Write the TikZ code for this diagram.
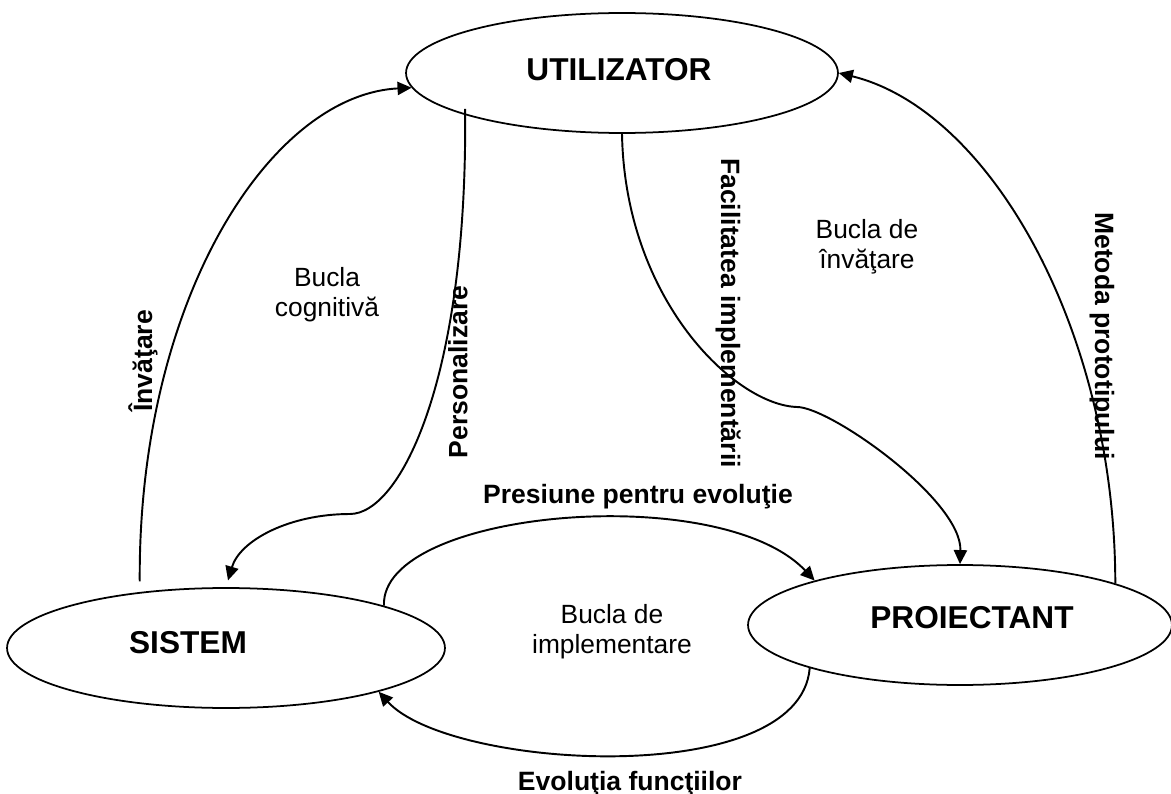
\documentclass[tikz,border=0pt]{standalone}
\usepackage{fontspec}
\setmainfont{Liberation Sans}
\usetikzlibrary{shapes.geometric,arrows.meta}
\begin{document}
\begin{tikzpicture}[x=0.02cm,y=-0.02cm,
  actor/.style={draw,ellipse,line width=1pt,inner sep=0pt,minimum height=2.4cm},
  actorname/.style={font=\fontsize{18}{21}\selectfont\bfseries,inner sep=0pt},
  flow/.style={line width=1.1pt,-{Triangle[length=8pt,width=7.5pt]}},
  flowlabel/.style={font=\fontsize{15.1}{17}\selectfont\bfseries,inner sep=0pt},
  looplabel/.style={font=\fontsize{15}{17}\selectfont,align=center,inner sep=0pt}]
\useasboundingbox (0,0) rectangle (1171,794);

% the three actors
\node[actor,minimum width=8.64cm] (utilizator) at (622,73) {};
\node[actor,minimum width=8.76cm] (sistem) at (226,648) {};
\node[actor,minimum width=8.48cm] (proiectant) at (960,625) {};
\node[actorname] (utilizatortxt) at (619,70) {UTILIZATOR};
\node[actorname] (sistemtxt) at (188,643) {SISTEM};
\node[actorname] (proiectanttxt) at (972,618) {PROIECTANT};

% bends of the two S-shaped connectors
\coordinate (pk) at (350,514);
\coordinate (fk) at (797,407);

% cognitive loop
\draw[flow,shorten <=6pt] (sistem.147) .. controls (138,300) and (270,95) .. (utilizator.184);
\draw[flow,shorten <=-3.5pt,shorten >=4pt] (utilizator.195) .. controls (468,380) and (400,514) .. (pk)
  .. controls (290,514) and (240,540) .. (sistem.north);

% learning loop
\draw[flow] (utilizator.south) .. controls (625,300) and (735,405) .. (fk)
  .. controls (830,407) and (962,500) .. (proiectant.north);
\draw[flow] (proiectant.15) .. controls (1115,330) and (990,110) .. (utilizator.east);

% implementation loop
\draw[flow] (sistem.15) .. controls (380,510) and (720,480) .. (proiectant.163);
\draw[flow] (proiectant.196) .. controls (800,790) and (450,770) .. (sistem.-16);

% connector labels
\node[flowlabel,rotate=90] (linvatare) at (143,361) {Învăţare};
\node[flowlabel,rotate=90] (lpers) at (458,372) {Personalizare};
\node[flowlabel,rotate=-90] (lfacil) at (728,313) {Facilitatea implementării};
\node[flowlabel,rotate=-90] (lmetoda) at (1102,336) {Metoda prototipului};
\node[flowlabel,anchor=base] (lpresiune) at (638,503) {Presiune pentru evoluţie};
\node[flowlabel,anchor=base] (levolutia) at (630,790) {Evoluţia funcţiilor};

% loop names
\node[looplabel] (bcog) at (327,295) {Bucla\\cognitivă};
\node[looplabel] (binv) at (867,247) {Bucla de\\învăţare};
\node[looplabel] (bimp) at (612,632) {Bucla de\\implementare};
\end{tikzpicture}
\end{document}
